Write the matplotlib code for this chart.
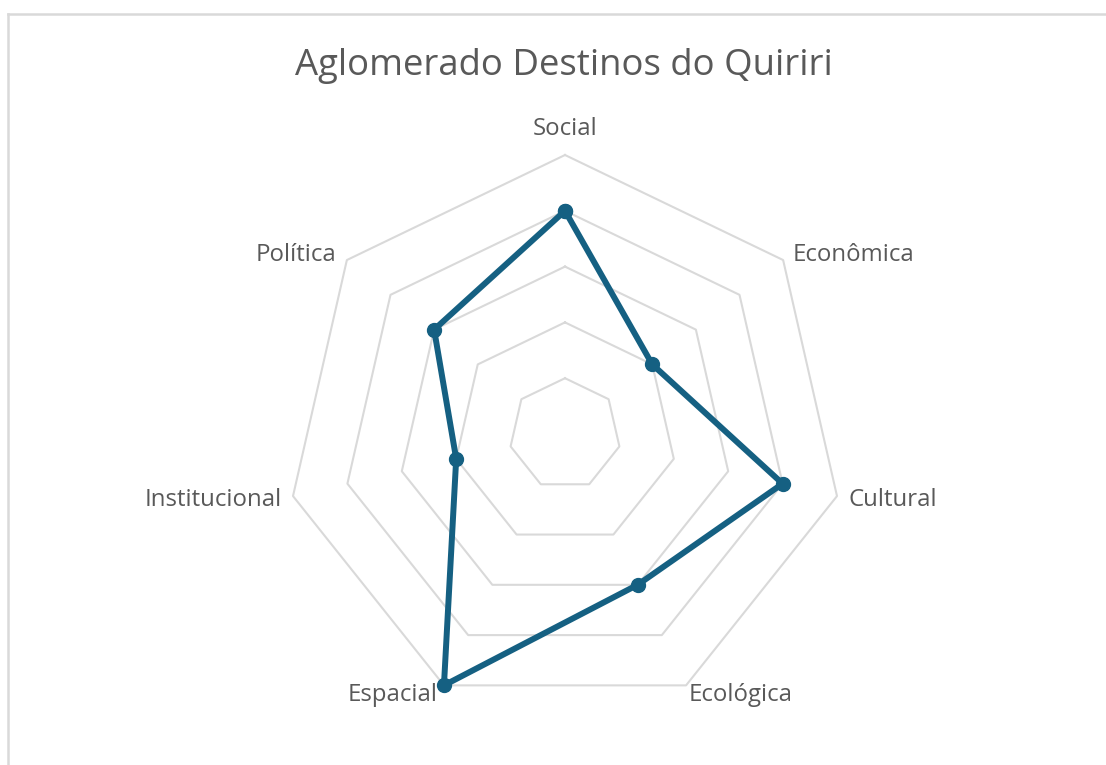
import matplotlib.pyplot as plt
import numpy as np
from matplotlib.lines import Line2D

categories = ["Social", "Econômica", "Cultural", "Ecológica", "Espacial", "Institucional", "Política"]
values = [4, 2, 4, 3, 5, 2, 3]
levels = [1, 2, 3, 4, 5]
title = "Aglomerado Destinos do Quiriri"

lineColor = "#156082"
gridColor = "#D9D9D9"
textColor = "#595959"
plt.rcParams['font.family'] = ['Open Sans', 'DejaVu Sans']

W, H = 1106, 765
cx, cy = 565, 434
unit = 279 / 5.0

fig = plt.figure(figsize=(W / 100, H / 100), dpi=100)
ax = fig.add_axes([0, 0, 1, 1])
ax.set_xlim(-cx / unit, (W - cx) / unit)
ax.set_ylim(-(H - cy) / unit, cy / unit)
ax.set_aspect('equal')
ax.axis('off')

n = len(categories)
angles = np.pi / 2 - np.arange(n) * 2 * np.pi / n
ang_closed = np.append(angles, angles[0])

for lv in levels:
    ax.plot(lv * np.cos(ang_closed), lv * np.sin(ang_closed), color=gridColor, lw=1.5, zorder=1)

vals = np.append(values, values[0])
ax.plot(vals * np.cos(ang_closed), vals * np.sin(ang_closed), color=lineColor, lw=4.3,
        marker='o', markersize=10, solid_joinstyle='round', zorder=3)

# label offsets from the outer ring vertex, in pixels
offsets = [(0, 26, 'center'), (9, 5, 'left'), (11, -4, 'left'), (3, -10, 'left'),
           (-6, -10, 'right'), (-11, -4, 'right'), (-10, 5, 'right')]
rmax = levels[-1]
for cat, a, (dx, dy, ha) in zip(categories, angles, offsets):
    ax.annotate(cat, (rmax * np.cos(a), rmax * np.sin(a)), xytext=(dx, dy),
                textcoords='offset pixels', ha=ha, va='center', fontsize=17.3, color=textColor)

fig.text(564 / W, 1 - 66 / H, title, ha='center', va='center', fontsize=26.3, color=textColor)

fig.add_artist(Line2D([8 / W, 1], [1 - 14 / H, 1 - 14 / H], color=gridColor, lw=1.8))
fig.add_artist(Line2D([8 / W, 8 / W], [0, 1 - 14 / H], color=gridColor, lw=1.8))

plt.savefig("out.png", dpi=100)
